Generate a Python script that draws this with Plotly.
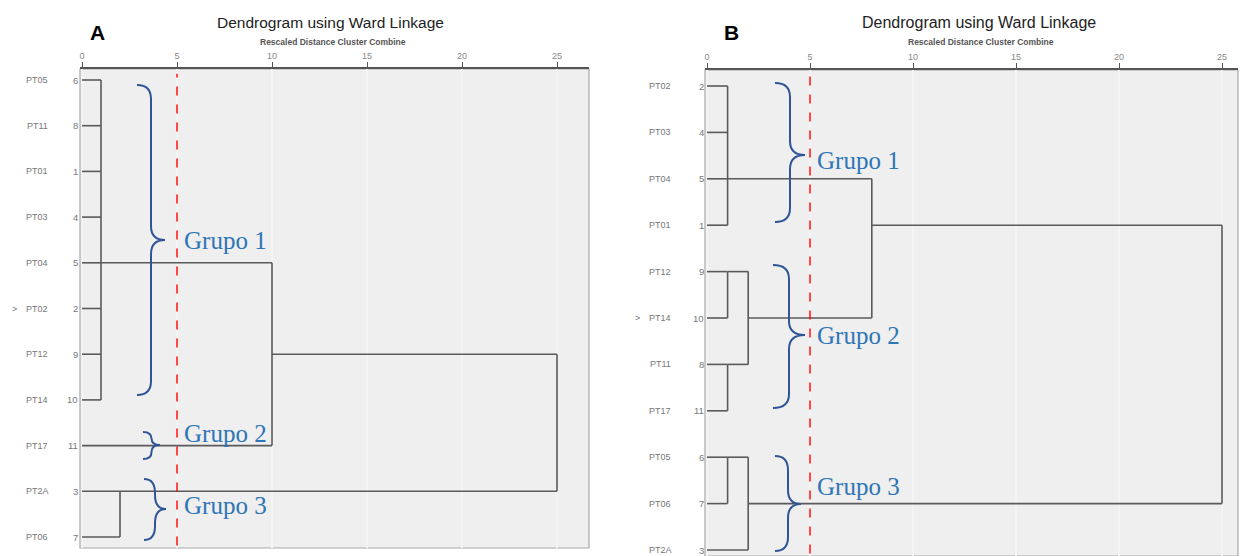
import math
import plotly.graph_objects as go

W, H = 1240, 556

# ---------------- data ----------------
CUT = 5
TICKS = [0, 5, 10, 15, 20, 25]
TITLE = "Dendrogram using Ward Linkage"
SUBTITLE = "Rescaled Distance Cluster Combine"
GROUPS = ["Grupo 1", "Grupo 2", "Grupo 3"]

A_labels = ["PT05", "PT11", "PT01", "PT03", "PT04", "PT02", "PT12", "PT14", "PT17", "PT2A", "PT06"]
A_cases = [6, 8, 1, 4, 5, 2, 9, 10, 11, 3, 7]
A_marked = "PT02"
# tree nodes: (rescaled distance, [children]); leaves are row indices
A_tree = (25, [(10, [(1, [0, 1, 2, 3, 4, 5, 6, 7]), 8]), (2, [9, 10])])

B_labels = ["PT02", "PT03", "PT04", "PT01", "PT12", "PT14", "PT11", "PT17", "PT05", "PT06", "PT2A"]
B_cases = [2, 4, 5, 1, 9, 10, 8, 11, 6, 7, 3]
B_marked = "PT14"
B_tree = (25, [(8, [(1, [0, 1, 2, 3]), (2, [(1, [4, 5]), (1, [6, 7])])]),
               (2, [(1, [8, 9]), 10])])

# ---------------- helpers ----------------
def px(x):
    return x / W


def py(y):
    return 1 - y / H


def walk(node, xs, ys):
    if isinstance(node, int):
        return node, 0.0
    d, children = node
    res = [walk(c, xs, ys) for c in children]
    pos = [p for p, _ in res]
    for p, cd in res:
        xs += [cd, d, None]
        ys += [p, p, None]
    lo, hi = min(pos), max(pos)
    xs += [d, d, None]
    ys += [lo, hi, None]
    mid = (lo + hi) / 2
    mid = math.ceil(mid) if len(children) > 2 else math.floor(mid)
    return mid, d


def brace(left, tip, top, bottom, tipy):
    sx = left + 0.5 * (tip - left)
    r = min(14, (bottom - top) / 4)
    pts = [
        f"M{px(left)},{py(top)}",
        f"Q{px(sx)},{py(top)} {px(sx)},{py(top + r)}",
        f"L{px(sx)},{py(tipy - r)}",
        f"Q{px(sx)},{py(tipy)} {px(tip)},{py(tipy)}",
        f"Q{px(sx)},{py(tipy)} {px(sx)},{py(tipy + r)}",
        f"L{px(sx)},{py(bottom - r)}",
        f"Q{px(sx)},{py(bottom)} {px(left)},{py(bottom)}",
    ]
    return " ".join(pts)


panels = [
    dict(labels=A_labels, cases=A_cases, tree=A_tree, marked=A_marked, letter="A",
         left=80, right=589, top=69, bottom=548, x0=82, unit=19.0, row0=80, step=45.7,
         title_x=331, letter_x=97, name_x=37, mark_x=14, num_x=80,
         braces=[(137, 165, 85, 395, 240), (143, 160, 432, 459, 445), (144, 166, 479, 540, 509)],
         gtext=[(182, 241), (182, 433), (182, 505)]),
    dict(labels=B_labels, cases=B_cases, tree=B_tree, marked=B_marked, letter="B",
         left=705, right=1238, top=70, bottom=556, x0=707, unit=20.6, row0=86, step=46.4,
         title_x=979, letter_x=731, name_x=660, mark_x=637, num_x=706,
         braces=[(775, 805, 83, 222, 155), (773, 805, 265, 408, 335), (775, 801, 456, 551, 504)],
         gtext=[(815, 160), (815, 335), (815, 486)]),
]

fig = go.Figure()
annotations = []
shapes = []
LINE = "#5a5a5a"
BLUE_T = "#2E75B6"
BLUE_B = "#2F5597"

for i, P in enumerate(panels):
    sfx = "" if i == 0 else str(i + 1)
    xa, ya = "x" + sfx, "y" + sfx
    xs, ys = [], []
    walk(P["tree"], xs, ys)
    fig.add_trace(go.Scatter(x=xs, y=ys, mode="lines", xaxis=xa, yaxis=ya,
                             line=dict(color=LINE, width=1.6), hoverinfo="skip",
                             showlegend=False))

    xr = [(P["left"] - P["x0"]) / P["unit"], (P["right"] - P["x0"]) / P["unit"]]
    yr = [(P["bottom"] - P["row0"]) / P["step"], (P["top"] - P["row0"]) / P["step"]]
    fig.layout["xaxis" + sfx] = dict(
        domain=[px(P["left"]), px(P["right"])], range=xr, anchor=ya, side="top",
        tickvals=TICKS, ticktext=[str(t) for t in TICKS], ticks="outside", ticklen=5,
        tickcolor="#555", tickwidth=1.2, showline=True, linecolor="#555", linewidth=1.6,
        tickfont=dict(family="Liberation Sans", size=9, color="#888"),
        showgrid=True, gridcolor="#f4f4f4", gridwidth=2, zeroline=False, fixedrange=True)
    fig.layout["yaxis" + sfx] = dict(
        domain=[py(P["bottom"]), py(P["top"])], range=yr, anchor=xa,
        showticklabels=False, showgrid=False, zeroline=False, ticks="", fixedrange=True)

    # frame
    shapes.append(dict(type="rect", xref=xa + " domain", yref=ya + " domain",
                       x0=0, x1=1, y0=0, y1=1, line=dict(color="#a8a8a8", width=1.2),
                       fillcolor="#efefef", layer="below"))
    shapes.append(dict(type="line", xref=xa, yref=ya + " domain", x0=0, x1=0, y0=0, y1=1,
                       line=dict(color="#8a8a8a", width=1.6), layer="below"))
    # cut line
    shapes.append(dict(type="line", xref=xa, yref=ya + " domain", x0=CUT, x1=CUT,
                       y0=0.005, y1=0.99, line=dict(color="#ff0000", width=1.4, dash="dash")))

    # row labels
    for r, (lab, num) in enumerate(zip(P["labels"], P["cases"])):
        annotations.append(dict(xref="paper", yref=ya, x=px(P["name_x"]), y=r, text=lab,
                                showarrow=False, xanchor="center", yanchor="middle",
                                font=dict(family="Liberation Sans", size=9, color="#777")))
        annotations.append(dict(xref="paper", yref=ya, x=px(P["num_x"]), y=r, text=str(num),
                                showarrow=False, xanchor="right", yanchor="middle",
                                font=dict(family="Liberation Sans", size=9.5, color="#777")))
        if lab == P["marked"]:
            annotations.append(dict(xref="paper", yref=ya, x=px(P["mark_x"]), y=r, text="&gt;",
                                    showarrow=False, xanchor="center", yanchor="middle",
                                    font=dict(family="Liberation Sans", size=9, color="#777")))

    # titles
    annotations.append(dict(xref="paper", yref="paper", x=px(P["title_x"]), y=py(23),
                            text=TITLE, showarrow=False, xanchor="center", yanchor="middle",
                            font=dict(family="Liberation Sans", size=15.5 if i == 0 else 16,
                                      color="#222")))
    annotations.append(dict(xref="paper", yref="paper", x=px(P["title_x"] + 2), y=py(42),
                            text="<b>" + SUBTITLE + "</b>", showarrow=False, xanchor="center",
                            yanchor="middle",
                            font=dict(family="Liberation Sans", size=8.5, color="#555")))
    annotations.append(dict(xref="paper", yref="paper", x=px(P["letter_x"]), y=py(33),
                            text="<b>" + P["letter"] + "</b>", showarrow=False, xanchor="center",
                            yanchor="middle",
                            font=dict(family="Liberation Sans", size=21, color="#000")))

    # group braces and labels
    for (bl, bt, btop, bbot, bty), (gx, gy), g in zip(P["braces"], P["gtext"], GROUPS):
        shapes.append(dict(type="path", xref="paper", yref="paper",
                           path=brace(bl, bt, btop, bbot, bty),
                           line=dict(color=BLUE_B, width=2)))
        annotations.append(dict(xref="paper", yref="paper", x=px(gx), y=py(gy), text=g,
                                showarrow=False, xanchor="left", yanchor="middle",
                                font=dict(family="Liberation Serif", size=25, color=BLUE_T)))

fig.update_layout(width=W, height=H, autosize=False, margin=dict(l=0, r=0, t=0, b=0, pad=0),
                  paper_bgcolor="white", plot_bgcolor="rgba(0,0,0,0)",
                  annotations=annotations, shapes=shapes, showlegend=False)

fig.write_html("out.html", config={"displayModeBar": False},
               post_script="document.body.style.margin='0';document.body.style.overflow='hidden';")
